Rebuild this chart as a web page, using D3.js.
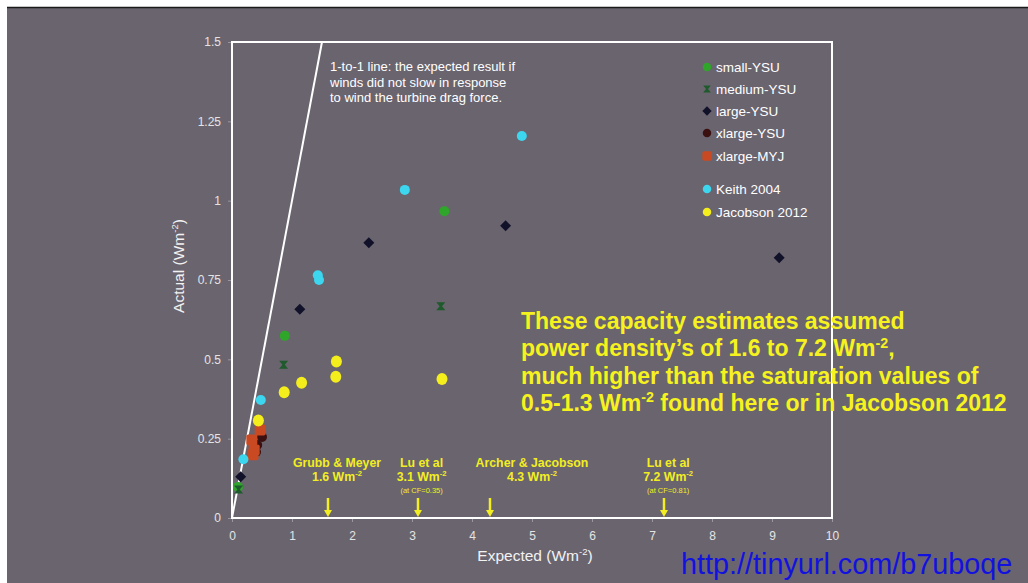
<!DOCTYPE html>
<html>
<head>
<meta charset="utf-8">
<script src="https://cdn.jsdelivr.net/npm/d3@7"></script>
<style>
  html, body { margin: 0; padding: 0; background: #ffffff; }
  svg { display: block; font-family: "Liberation Sans", Arial, Helvetica, sans-serif; }
</style>
</head>
<body>
<svg id="chart" width="1028" height="583"></svg>
<script>
// ---- data ----------------------------------------------------------------
const xTicks = [0, 1, 2, 3, 4, 5, 6, 7, 8, 9, 10];
const xTickLabels = ["0", "1", "2", "3", "4", "5", "6", "7", "8", "9", "10"];
const yTicks = [0, 0.25, 0.5, 0.75, 1, 1.25, 1.5];
const yTickLabels = ["0", "0.25", "0.5", "0.75", "1", "1.25", "1.5"];

// [expected, actual] in W m-2
const smallYSU     = [[0.10, 0.098], [0.88, 0.574], [3.54, 0.967]];
const mediumYSU    = [[0.11, 0.090], [0.86, 0.483], [3.48, 0.667]];
const largeYSU     = [[0.145, 0.130], [1.13, 0.658], [2.28, 0.867], [4.56, 0.921], [9.12, 0.820]];
const xlargeYSU    = [[0.50, 0.255], [0.42, 0.230], [0.40, 0.208]];
const xlargeMYJ    = [[0.47, 0.277], [0.33, 0.246], [0.37, 0.214], [0.35, 0.199]];
const keith2004    = [[0.19, 0.185], [0.48, 0.372], [1.43, 0.765], [1.45, 0.750], [2.88, 1.034], [4.83, 1.204]];
const jacobson2012 = [[0.44, 0.307], [0.87, 0.396], [1.16, 0.426], [1.73, 0.445], [1.74, 0.493], [3.50, 0.438]];
const oneToOne     = [[0, 0], [1.5, 1.5]];

const seriesNames  = ["small-YSU", "medium-YSU", "large-YSU", "xlarge-YSU", "xlarge-MYJ", "Keith 2004", "Jacobson 2012"];
const seriesData   = [smallYSU, mediumYSU, largeYSU, xlargeYSU, xlargeMYJ, keith2004, jacobson2012];
const seriesColors = ["#2fa52a", "#1f5a2c", "#11112a", "#3a1010", "#c94a22", "#3cd6ee", "#f4ee1c"];
const seriesShapes = ["circle", "hourglass", "diamond", "circle", "square", "circle", "ellipse"];

// published capacity estimates (power density, W m-2)
const refNames   = ["Grubb & Meyer", "Lu et al", "Archer & Jacobson", "Lu et al"];
const refDensity = [1.6, 3.1, 4.3, 7.2];
const refNotes   = ["", "(at CF=0.35)", "", "(at CF=0.81)"];
const refLabelX  = [1.75, 3.16, 5.0, 7.27];

const noteLines = [
  "1-to-1 line: the expected result if",
  "winds did not slow in response",
  "to wind the turbine drag force."
];

// ---- layout --------------------------------------------------------------
const W = 1028, H = 583;
const svg = d3.select("#chart");
const bg = "#6a646f";

svg.append("rect").attr("width", W).attr("height", H).attr("fill", "#ffffff");
svg.append("rect").attr("x", 7).attr("y", 7).attr("width", W - 7).attr("height", H - 7).attr("fill", bg);
svg.append("line").attr("x1", 7).attr("x2", W).attr("y1", 7.5).attr("y2", 7.5)
  .attr("stroke", "#1a1a1a").attr("stroke-width", 1.5);

const x = d3.scaleLinear().domain([0, 10]).range([232, 832]);
const y = d3.scaleLinear().domain([0, 1.5]).range([518, 42]);

// axes
const xAxis = d3.axisBottom(x).tickValues(xTicks)
  .tickFormat((d, i) => xTickLabels[i]).tickSize(4).tickPadding(9);
const yAxis = d3.axisLeft(y).tickValues(yTicks)
  .tickFormat((d, i) => yTickLabels[i]).tickSize(4).tickPadding(7);

const gx = svg.append("g").attr("transform", `translate(0,${y(0)})`).call(xAxis);
const gy = svg.append("g").attr("transform", `translate(${x(0)},0)`).call(yAxis);
[gx, gy].forEach(g => {
  g.select(".domain").remove();
  g.selectAll(".tick line").attr("stroke", "#9a96a0");
  g.selectAll(".tick text").attr("fill", "#e4e4e4")
    .style("font-size", "12px").style("font-family", "'Liberation Sans', Arial, sans-serif");
});

// plot frame
svg.append("rect")
  .attr("x", x(0)).attr("y", y(1.5))
  .attr("width", x(10) - x(0)).attr("height", y(0) - y(1.5))
  .attr("fill", "none").attr("stroke", "#ffffff").attr("stroke-width", 2);

// text with superscripts: raised parts shift up, the following part shifts back
function rich(textSel, parts, size) {
  let back = 0;
  parts.forEach(p => {
    const ts = textSel.append("tspan").text(p.t);
    if (p.sup) {
      ts.attr("dy", -size * 0.38).style("font-size", (size * 0.62) + "px");
      back = size * 0.38;
    } else if (back) {
      ts.attr("dy", back);
      back = 0;
    }
  });
}

// axis titles
const xt = svg.append("text").attr("x", 535).attr("y", 561)
  .attr("text-anchor", "middle").attr("fill", "#f2f2f2").style("font-size", "15.5px");
rich(xt, [{t: "Expected (Wm"}, {t: "-2", sup: true}, {t: ")"}], 15.5);

const yt = svg.append("text").attr("transform", "translate(184,266) rotate(-90)")
  .attr("text-anchor", "middle").attr("fill", "#f2f2f2").style("font-size", "15.5px");
rich(yt, [{t: "Actual (Wm"}, {t: "-2", sup: true}, {t: ")"}], 15.5);

// 1-to-1 line
svg.append("path").datum(oneToOne)
  .attr("d", d3.line().x(d => x(d[0])).y(d => y(d[1])))
  .attr("stroke", "#ffffff").attr("stroke-width", 2).attr("fill", "none");

const note = svg.append("text").attr("fill", "#ffffff").style("font-size", "13px");
noteLines.forEach((l, i) => note.append("tspan").attr("x", 330).attr("y", 71 + i * 15.5).text(l));

// marker drawing
function drawMarker(g, shape, color) {
  if (shape === "circle") {
    g.append("circle").attr("r", 5).attr("fill", color);
  } else if (shape === "ellipse") {
    g.append("ellipse").attr("rx", 5.5).attr("ry", 6).attr("fill", color);
  } else if (shape === "diamond") {
    g.append("path").attr("d", "M0,-5.5L5.5,0L0,5.5L-5.5,0Z").attr("fill", color);
  } else if (shape === "square") {
    g.append("rect").attr("x", -5.5).attr("y", -5.5).attr("width", 11).attr("height", 11)
      .attr("rx", 2).attr("fill", color);
  } else if (shape === "hourglass") {
    g.append("path").attr("d", "M-4.5,-4L4.5,-4L1.2,0L4.5,4L-4.5,4L-1.2,0Z").attr("fill", color);
  }
}

// series points
seriesData.forEach((data, si) => {
  svg.append("g").selectAll("g").data(data).join("g")
    .attr("transform", d => `translate(${x(d[0])},${y(d[1])})`)
    .each(function () { drawMarker(d3.select(this), seriesShapes[si], seriesColors[si]); });
});

// legend
const legendY = [67, 89, 111, 133, 156, 189, 212];
seriesNames.forEach((name, i) => {
  const g = svg.append("g").attr("transform", `translate(707,${legendY[i]})`);
  const s = g.append("g").attr("transform", "scale(0.85)");
  drawMarker(s, seriesShapes[i] === "ellipse" ? "circle" : seriesShapes[i], seriesColors[i]);
  g.append("text").attr("x", 9).attr("y", 5).attr("fill", "#ffffff")
    .style("font-size", "13.5px").text(name);
});

// published-estimate labels and arrows
const yellow = "#f2ee22";
refNames.forEach((name, i) => {
  const cx = x(refLabelX[i]);
  svg.append("text").attr("x", cx).attr("y", 467).attr("text-anchor", "middle")
    .attr("fill", yellow).style("font-size", "12.3px").style("font-weight", "bold").text(name);
  const t2 = svg.append("text").attr("x", cx).attr("y", 481).attr("text-anchor", "middle")
    .attr("fill", yellow).style("font-size", "12.3px").style("font-weight", "bold");
  rich(t2, [{t: refDensity[i] + " Wm"}, {t: "-2", sup: true}], 12.3);
  if (refNotes[i]) {
    svg.append("text").attr("x", cx).attr("y", 493).attr("text-anchor", "middle")
      .attr("fill", yellow).style("font-size", "7.5px").text(refNotes[i]);
  }
  const ax = x(refDensity[i]);
  svg.append("line").attr("x1", ax).attr("x2", ax).attr("y1", 498).attr("y2", 511)
    .attr("stroke", yellow).attr("stroke-width", 2.5);
  svg.append("path").attr("d", `M${ax - 4},510L${ax + 4},510L${ax},517Z`).attr("fill", yellow);
});

// highlighted statement
const bigSize = 23;
const bigLines = [
  [{t: "These capacity estimates assumed"}],
  [{t: "power density\u2019s of 1.6 to 7.2 Wm"}, {t: "-2", sup: true}, {t: ","}],
  [{t: "much higher than the saturation values of"}],
  [{t: "0.5-1.3 Wm"}, {t: "-2", sup: true}, {t: " found here or in Jacobson 2012"}]
];
bigLines.forEach((parts, i) => {
  const t = svg.append("text").attr("x", 521).attr("y", 329 + i * 27.3)
    .attr("fill", "#f6f21e").style("font-size", bigSize + "px").style("font-weight", "bold");
  rich(t, parts, bigSize);
});

// link
svg.append("text").attr("x", 681).attr("y", 574).attr("fill", "#1212e0")
  .style("font-size", "28.8px").text("http://tinyurl.com/b7uboqe");
</script>
</body>
</html>
